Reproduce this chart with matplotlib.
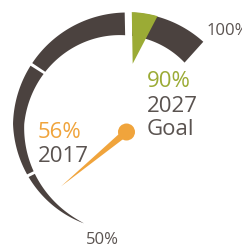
import numpy as np
import matplotlib.pyplot as plt

plt.rcParams['font.family'] = ['Open Sans', 'DejaVu Sans']

# 데이터
scale_min, scale_max = 50, 100
band_edges = [50, 60, 75, 90, 100]
current_value = 56
current_year = '2017'
goal_value = 90
goal_lines = ['2027', 'Goal']
goal_width = 3.3          # 녹색 마커 폭 (%)

# 색상
dark = '#4b423f'
green = '#9bab35'
orange = '#f0a43c'
gray = '#5a5350'

# 게이지 모양 (픽셀 단위)
start_deg, sweep_deg = 246, 198


def angle(p):
    return np.deg2rad(start_deg - (p - scale_min) / (scale_max - scale_min) * sweep_deg)


def r_outer(p):
    return 114 - 8 * np.clip(1 - (p - scale_min) / 17, 0, 1)


def thickness(p):
    return 28 * ((p - scale_min) / (scale_max - scale_min)) ** 0.85


fig = plt.figure(figsize=(2.42, 2.46), dpi=100)
ax = fig.add_axes([0, 0, 1, 1])
ax.set_xlim(-127, 115)
ax.set_ylim(-119.5, 126.5)
ax.axis('off')

# 어두운 띠 (구간 사이 틈)
gap = 0.2
for i in range(len(band_edges) - 1):
    p0, p1 = band_edges[i], band_edges[i + 1]
    if i > 0:
        p0 += gap
    if p1 == goal_value:
        p1 -= 0.9
    elif i < len(band_edges) - 2:
        p1 -= gap
    p = np.linspace(p0, p1, 120)
    a = angle(p)
    ro = r_outer(p)
    ri = ro - thickness(p)
    xs = np.concatenate([ro * np.cos(a), (ri * np.cos(a))[::-1]])
    ys = np.concatenate([ro * np.sin(a), (ri * np.sin(a))[::-1]])
    ax.fill(xs, ys, color=dark, lw=0)

# 목표 마커
p = np.linspace(goal_value, goal_value + goal_width, 40)
a = angle(p)
ro = r_outer(p) + 0.5
tip_a = angle(goal_value + 0.7)
gx = np.append(ro * np.cos(a), 63 * np.cos(tip_a))
gy = np.append(ro * np.sin(a), 63 * np.sin(tip_a))
ax.fill(gx, gy, color=green, lw=0)

# 바늘
pivot = np.array([-0.5, -5.5])
na = angle(current_value)
tip = np.array([89 * np.cos(na), 89 * np.sin(na)])
d = tip - pivot
n = np.array([-d[1], d[0]]) / np.hypot(*d)
base_l = pivot + n * 3.6
base_r = pivot - n * 3.6
ax.fill([base_l[0], tip[0], base_r[0]], [base_l[1], tip[1], base_r[1]], color=orange, lw=0)
ax.add_patch(plt.Circle(pivot, 8.5, color=orange, lw=0))

# 텍스트
ax.text(80, 91.5, f'{scale_max}%', fontsize=12, color=gray, ha='left', va='baseline')
ax.text(-24.5, -117.5, f'{scale_min}%', fontsize=12, color=gray, ha='center', va='baseline')
ax.text(19.7, 39.2, f'{goal_value}%', fontsize=16, color=green, ha='left', va='baseline')
ax.text(19.7, 14.8, goal_lines[0], fontsize=16, color=gray, ha='left', va='baseline')
ax.text(19.7, -8.5, goal_lines[1], fontsize=16, color=gray, ha='left', va='baseline')
ax.text(-89, -11.5, f'{current_value}%', fontsize=16, color=orange, ha='left', va='baseline')
ax.text(-89, -35.5, current_year, fontsize=16, color=gray, ha='left', va='baseline')

fig.savefig('out.png', dpi=100)
